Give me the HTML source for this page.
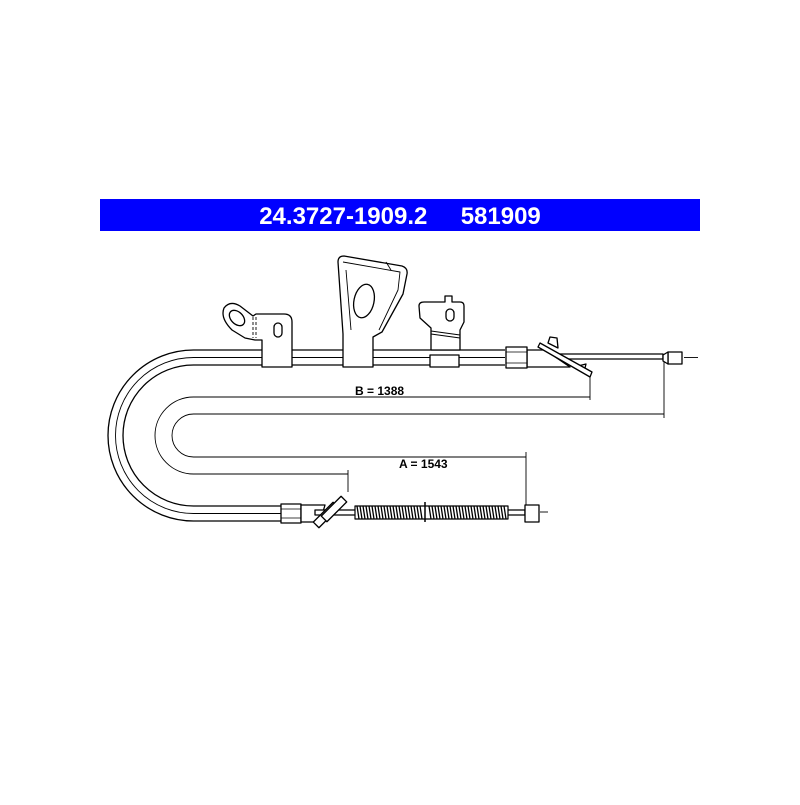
<!DOCTYPE html>
<html><head><style>
html,body{margin:0;padding:0;background:#fff;}
</style></head><body>
<svg width="800" height="800" viewBox="0 0 800 800" xmlns="http://www.w3.org/2000/svg">
<rect x="0" y="0" width="800" height="800" fill="#fff"/>
<rect x="100" y="199" width="600" height="32" fill="#0000ff"/>
<text x="400" y="224" text-anchor="middle" font-family="Liberation Sans, sans-serif" font-weight="bold" font-size="24" fill="#fff" xml:space="preserve">24.3727-1909.2     581909</text>

<g fill="none" stroke="#000" stroke-width="1.3">
<path d="M505 350 H193.5 A85.5 85.5 0 0 0 193.5 521 H282"/>
<path d="M505 365 H193.5 A70.5 70.5 0 0 0 193.5 506 H282"/>
<path d="M505 357.5 H193.5 A78 78 0 0 0 193.5 513.5 H282" stroke-width="0.9"/>
</g>
<g fill="none" stroke="#000" stroke-width="0.9">
<path d="M590 397 H193.5 A38.5 38.5 0 0 0 193.5 474 H348"/>
<path d="M664 414 H193.5 A21.5 21.5 0 0 0 193.5 457 H526"/>
<line x1="590" y1="372" x2="590" y2="400"/>
<line x1="664" y1="360" x2="664" y2="418"/>
<line x1="526" y1="452" x2="526" y2="516"/>
<line x1="348" y1="470" x2="348" y2="492"/>
<line x1="684" y1="357.5" x2="698" y2="357.5"/>
<line x1="540" y1="512" x2="548" y2="512"/>
</g>
<text x="355" y="395" font-family="Liberation Sans, sans-serif" font-weight="bold" font-size="12">B = 1388</text>
<text x="399" y="468" font-family="Liberation Sans, sans-serif" font-weight="bold" font-size="12">A = 1543</text>

<g fill="#fff" stroke="#000" stroke-width="1.3" stroke-linejoin="round">
<path d="M253 316 L240 306 Q230 300 224 308 Q220 318 232 330 L245 338 L255 340 L262 340 L262 367 L292 367 L292 322 Q292 314 284 314 L256 314 Z"/>
<ellipse cx="237" cy="318" rx="6" ry="9" transform="rotate(-45 237 318)"/>
<line x1="253" y1="317" x2="253" y2="338" stroke-dasharray="3 2" stroke-width="0.9"/>
<line x1="256" y1="317" x2="256" y2="338" stroke-dasharray="3 2" stroke-width="0.9"/>
<rect x="274" y="323" width="8" height="14" rx="4"/>
<path d="M343 367 L343 334 L338 262 Q338 256 344 256 L402 266 Q408 268 407 274 L403 294 L382 332 L373 337 L373 367 Z"/>
<path d="M343 262 L400 272 L398 290 L379 330" stroke-width="0.9"/>
<path d="M346 270 L351 330" stroke-width="0.9"/>
<path d="M386 262 L391 270" stroke-width="0.9"/>
<ellipse cx="364" cy="301" rx="10" ry="17" transform="rotate(12 364 301)"/>
<path d="M431 350 L431 328 L420 318 L419 306 Q419 302 424 302 L445 302 L445 296 L452 296 L452 302 L460 302 Q464 302 464 306 L464 322 L460 330 L460 350 Z"/>
<line x1="431" y1="331" x2="460" y2="335" stroke-width="0.9"/>
<line x1="431" y1="334" x2="460" y2="338" stroke-width="0.9"/>
<rect x="446" y="309" width="8" height="12" rx="4"/>
<rect x="430" y="355" width="29" height="12"/>
<path d="M527 350 L545 350 L570 367 L527 367 Z"/>
<rect x="506" y="347" width="21" height="21"/>
<line x1="506" y1="352" x2="527" y2="352" stroke-width="0.8"/>
<line x1="506" y1="363" x2="527" y2="363" stroke-width="0.8"/>
<path d="M548 343 L550 337 L557 338 L558 348 Z"/>
<path d="M578 366 L586 364 L584 372 Z"/>
<rect x="560" y="354" width="103" height="5"/>
<path d="M538 347 L540 343 L592 372 L590 377 Z"/>
<rect x="668" y="352" width="14" height="12"/>
<path d="M668 352 L663 355 L663 361 L668 364 Z"/>
<rect x="281" y="504" width="20" height="19"/>
<line x1="281" y1="509" x2="301" y2="509" stroke-width="0.8"/>
<line x1="281" y1="518" x2="301" y2="518" stroke-width="0.8"/>
<path d="M301 505 L325 505 L320 522 L301 522 Z"/>
<rect x="315" y="510" width="210" height="5"/>
<rect x="312" y="511" width="28" height="8" transform="rotate(-45 326 515)"/>
<rect x="320" y="505" width="28" height="8" transform="rotate(-45 334 509)"/>
<rect x="355" y="506" width="153" height="13" fill="#fff" stroke-width="1.2"/>
<rect x="525" y="505" width="14" height="17"/>
</g>
<g stroke="#000" stroke-width="1.3">
<path d="M357 506 L359 519 M360 506 L362 519 M363 506 L365 519 M366 506 L368 519 M369 506 L371 519 M372 506 L374 519 M375 506 L377 519 M378 506 L380 519 M381 506 L383 519 M384 506 L386 519 M387 506 L389 519 M390 506 L392 519 M393 506 L395 519 M396 506 L398 519 M399 506 L401 519 M402 506 L404 519 M405 506 L407 519 M408 506 L410 519 M411 506 L413 519 M414 506 L416 519 M417 506 L419 519 M420 506 L422 519 M429 506 L431 519 M432 506 L434 519 M435 506 L437 519 M438 506 L440 519 M441 506 L443 519 M444 506 L446 519 M447 506 L449 519 M450 506 L452 519 M453 506 L455 519 M456 506 L458 519 M459 506 L461 519 M462 506 L464 519 M465 506 L467 519 M468 506 L470 519 M471 506 L473 519 M474 506 L476 519 M477 506 L479 519 M480 506 L482 519 M483 506 L485 519 M486 506 L488 519 M489 506 L491 519 M492 506 L494 519 M495 506 L497 519 M498 506 L500 519 M501 506 L503 519 M504 506 L506 519"/>
<line x1="425" y1="502" x2="425" y2="522" stroke-width="1.5"/>
</g>
</svg>
</body></html>
